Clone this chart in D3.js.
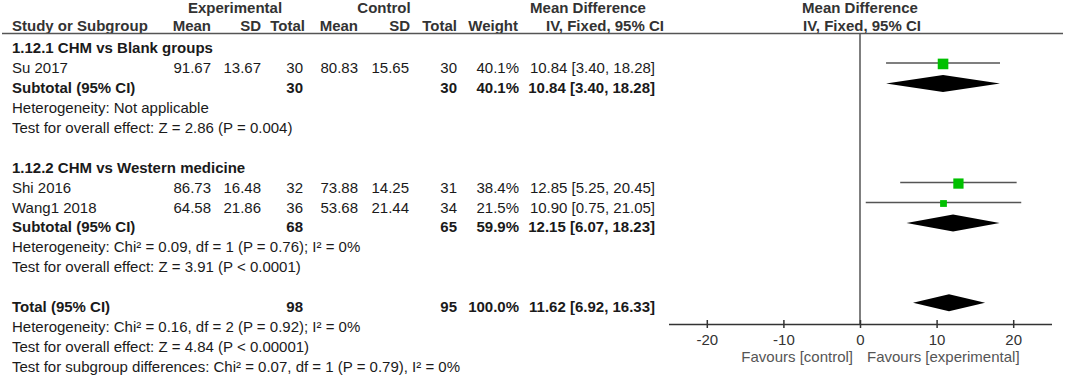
<!DOCTYPE html>
<html>
<head>
<meta charset="utf-8">
<script src="https://cdn.jsdelivr.net/npm/d3@7"></script>
<style>
  body { margin: 0; background: #fff; }
  svg { display: block; font-family: "Liberation Sans", Arial, sans-serif; font-size: 15px; }
  .b { font-weight: bold; }
</style>
</head>
<body>
<svg id="viz" width="1065" height="376"></svg>
<script>
// Study level data
const studies = ['Su 2017', 'Shi 2016', 'Wang1 2018']
const groupOf = [0, 1, 1]
const expMean = [91.67, 86.73, 64.58]
const expSD = [13.67, 16.48, 21.86]
const expN = [30, 32, 36]
const ctlMean = [80.83, 73.88, 53.68]
const ctlSD = [15.65, 14.25, 21.44]
const ctlN = [30, 31, 34]
const weight = [40.1, 38.4, 21.5]
const md = [10.84, 12.85, 10.90]
const lo = [3.40, 5.25, 0.75]
const hi = [18.28, 20.45, 21.05]

// Subgroup data
const groupNames = ['1.12.1 CHM vs Blank groups', '1.12.2 CHM vs Western medicine']
const subExpN = [30, 68]
const subCtlN = [30, 65]
const subWeight = [40.1, 59.9]
const subMd = [10.84, 12.15]
const subLo = [3.40, 6.07]
const subHi = [18.28, 18.23]
const subHet = ['Heterogeneity: Not applicable', 'Heterogeneity: Chi² = 0.09, df = 1 (P = 0.76); I² = 0%']
const subTest = ['Test for overall effect: Z = 2.86 (P = 0.004)', 'Test for overall effect: Z = 3.91 (P < 0.0001)']

// Overall
const totExpN = 98
const totCtlN = 95
const totWeight = 100.0
const totMd = 11.62
const totLo = 6.92
const totHi = 16.33
const totText = ['Heterogeneity: Chi² = 0.16, df = 2 (P = 0.92); I² = 0%',
  'Test for overall effect: Z = 4.84 (P < 0.00001)',
  'Test for subgroup differences: Chi² = 0.07, df = 1 (P = 0.79), I² = 0%']

const ticks = [-20, -10, 0, 10, 20]
const favours = ['Favours [control]', 'Favours [experimental]']

// Build the list of rows in display order
let rows = []
let r = 0
groupNames.forEach((g, gi) => {
  rows.push({ row: r++, type: 'title', label: g })
  studies.forEach((s, i) => {
    if (groupOf[i] !== gi) return
    rows.push({ row: r++, type: 'study', label: s, em: expMean[i], esd: expSD[i], en: expN[i],
      cm: ctlMean[i], csd: ctlSD[i], cn: ctlN[i], w: weight[i], md: md[i], lo: lo[i], hi: hi[i] })
  })
  rows.push({ row: r++, type: 'sub', label: 'Subtotal (95% CI)', en: subExpN[gi], cn: subCtlN[gi],
    w: subWeight[gi], md: subMd[gi], lo: subLo[gi], hi: subHi[gi] })
  rows.push({ row: r++, type: 'note', label: subHet[gi] })
  rows.push({ row: r++, type: 'note', label: subTest[gi] })
  r++
})
rows.push({ row: r++, type: 'sub', label: 'Total (95% CI)', en: totExpN, cn: totCtlN,
  w: totWeight, md: totMd, lo: totLo, hi: totHi })
totText.forEach(t => rows.push({ row: r++, type: 'note', label: t }))

// Scales
var rowY = d3.scaleLinear().domain([0, 16]).range([48, 367])
var x = d3.scaleLinear().domain([-25, 25]).range([668.5, 1051.5])
var boxSize = d3.scaleLinear().domain([0, 40.1]).range([2.4, 10.6])
var f2 = d3.format('.2f')
var f1 = d3.format('.1f')
var ciText = d => f2(d.md) + ' [' + f2(d.lo) + ', ' + f2(d.hi) + ']'

var svg = d3.select('#viz')
var txtCol = '#1a1a1a'
var headCol = '#333'
var axisY = 324
var topY = 33.5

// Column headers
var head1 = [
  { t: 'Experimental', x: 235, a: 'middle' },
  { t: 'Control', x: 384, a: 'middle' },
  { t: 'Mean Difference', x: 588, a: 'middle' },
  { t: 'Mean Difference', x: 860, a: 'middle' }
]
var head2 = [
  { t: 'Study or Subgroup', x: 12, a: 'start' },
  { t: 'Mean', x: 211, a: 'end' },
  { t: 'SD', x: 261, a: 'end' },
  { t: 'Total', x: 305, a: 'end' },
  { t: 'Mean', x: 358, a: 'end' },
  { t: 'SD', x: 410, a: 'end' },
  { t: 'Total', x: 457, a: 'end' },
  { t: 'Weight', x: 518, a: 'end' },
  { t: 'IV, Fixed, 95% CI', x: 605, a: 'middle' },
  { t: 'IV, Fixed, 95% CI', x: 862, a: 'middle' }
]
svg.selectAll('.h1').data(head1).enter().append('text')
  .attr('class', 'b').attr('x', d => d.x).attr('y', 13)
  .attr('text-anchor', d => d.a).attr('fill', headCol).text(d => d.t)
svg.selectAll('.h2').data(head2).enter().append('text')
  .attr('class', 'b').attr('x', d => d.x).attr('y', 31)
  .attr('text-anchor', d => d.a).attr('fill', headCol).text(d => d.t)

svg.append('line').attr('x1', 2).attr('x2', 1063).attr('y1', topY).attr('y2', topY)
  .attr('stroke', '#555').attr('stroke-width', 1.5)

// Table text
var cols = [
  { k: 'em', x: 211, f: f2 }, { k: 'esd', x: 261, f: f2 }, { k: 'en', x: 303, f: d => d },
  { k: 'cm', x: 358, f: f2 }, { k: 'csd', x: 409, f: f2 }, { k: 'cn', x: 457, f: d => d },
  { k: 'w', x: 519, f: d => f1(d) + '%' }
]
rows.forEach(d => {
  let bold = d.type === 'title' || d.type === 'sub'
  let base = rowY(d.row) + 5
  svg.append('text').attr('x', 12).attr('y', base).attr('fill', txtCol)
    .attr('class', bold ? 'b' : null).text(d.label)
  if (d.type === 'study' || d.type === 'sub') {
    cols.forEach(c => {
      if (d[c.k] === undefined) return
      svg.append('text').attr('x', c.x).attr('y', base).attr('text-anchor', 'end')
        .attr('fill', txtCol).attr('class', bold ? 'b' : null).text(c.f(d[c.k]))
    })
    svg.append('text').attr('x', 655).attr('y', base).attr('text-anchor', 'end')
      .attr('fill', txtCol).attr('class', bold ? 'b' : null).text(ciText(d))
  }
})

// Zero line
svg.append('line').attr('x1', x(0)).attr('x2', x(0)).attr('y1', topY).attr('y2', axisY)
  .attr('stroke', '#555').attr('stroke-width', 1.5)

// Study markers
var st = rows.filter(d => d.type === 'study')
svg.selectAll('.ci').data(st).enter().append('line')
  .attr('x1', d => x(d.lo)).attr('x2', d => x(d.hi))
  .attr('y1', d => rowY(d.row) - 5).attr('y2', d => rowY(d.row) - 5)
  .attr('stroke', '#555').attr('stroke-width', 1.5)
svg.selectAll('.box').data(st).enter().append('rect')
  .attr('x', d => x(d.md) - boxSize(d.w) / 2)
  .attr('y', d => rowY(d.row) - 4 - boxSize(d.w) / 2)
  .attr('width', d => boxSize(d.w)).attr('height', d => boxSize(d.w))
  .attr('fill', '#00c000')

// Pooled diamonds
var sb = rows.filter(d => d.type === 'sub')
svg.selectAll('.dia').data(sb).enter().append('path')
  .attr('d', d => {
    let y = rowY(d.row) - 4.5
    return 'M' + x(d.lo) + ',' + y + 'L' + x(d.md) + ',' + (y - 8.5) +
      'L' + x(d.hi) + ',' + y + 'L' + x(d.md) + ',' + (y + 8.5) + 'Z'
  })
  .attr('fill', '#000')

// Axis
var axis = svg.append('g').attr('transform', 'translate(0,' + axisY + ')')
  .call(d3.axisBottom(x).tickValues(ticks).tickFormat(d => String(d)).tickSize(4).tickSizeOuter(0))
axis.select('.domain').attr('stroke', '#333').attr('stroke-width', 1.5)
axis.selectAll('.tick line').attr('y1', -4).attr('y2', 4).attr('stroke', '#333').attr('stroke-width', 1.5)
axis.selectAll('.tick text').attr('y', 21).attr('dy', 0)
  .attr('font-size', 15).attr('font-family', '"Liberation Sans", Arial, sans-serif').attr('fill', '#333')

svg.append('text').attr('x', x(0) - 7).attr('y', 362).attr('text-anchor', 'end')
  .attr('fill', '#555').text(favours[0])
svg.append('text').attr('x', x(0) + 7).attr('y', 362).attr('text-anchor', 'start')
  .attr('fill', '#555').text(favours[1])
</script>
</body>
</html>
